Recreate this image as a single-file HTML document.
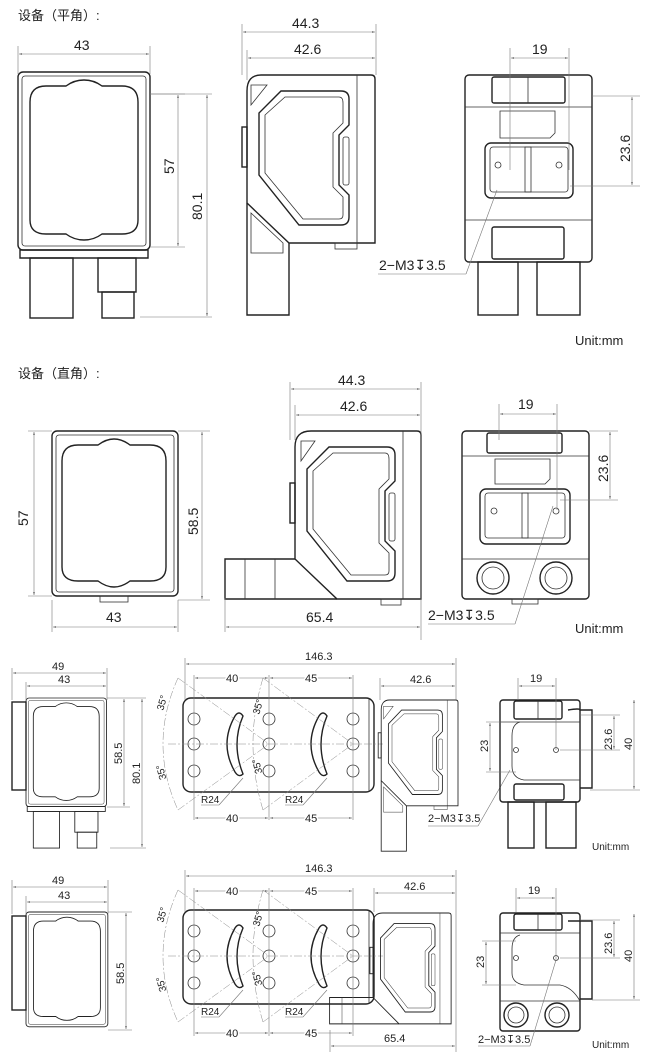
<!DOCTYPE html>
<html><head><meta charset="utf-8"><style>
html,body{margin:0;padding:0;background:#fff;}
svg{display:block;}
text{font-family:"Liberation Sans","Noto Sans CJK SC",sans-serif;fill:#222;}
.b{fill:none;stroke:#222;stroke-width:1.4;}
.t{fill:none;stroke:#333;stroke-width:0.8;}
.d{fill:none;stroke:#777;stroke-width:0.6;}
.c{fill:none;stroke:#888;stroke-width:0.5;stroke-dasharray:8 2 2 2;}
</style></head><body>
<svg width="661" height="1060" viewBox="0 0 661 1060" xmlns="http://www.w3.org/2000/svg">
<defs>
<marker id="a" viewBox="0 0 10 10" refX="10" refY="5" markerWidth="5" markerHeight="5" orient="auto-start-reverse"><path d="M0,2 L10,5 L0,8z" fill="#666"/></marker>
<g id="front">
<rect class="b" x="0" y="0" width="132" height="178" rx="5"/>
<rect class="t" x="4" y="4" width="124" height="170" rx="3"/>
<path class="b" d="M28,14 H48 Q56,8 66,8 Q76,8 84,14 H104 Q120,14 120,30 V148 Q120,162 104,162 H84 Q76,168 66,168 Q56,168 48,162 H28 Q12,162 12,148 V30 Q12,14 28,14Z"/>
<path class="b" d="M2,178 H130 V186 H2Z"/>
<rect class="b" x="12" y="186" width="43" height="60"/>
<rect class="b" x="80" y="186" width="38" height="34"/>
<rect class="b" x="84" y="220" width="32" height="26"/>
</g>
<g id="side">
<path class="b" d="M16,0 H126 Q130,0 130,4 V168 H44 L2,128 V16 Q2,0 16,0Z"/>
<line class="t" x1="112" y1="0" x2="112" y2="168"/>
<path class="b" d="M36,16 H96 Q104,16 104,24 V50 L94,60 V110 L104,120 V142 Q104,150 96,150 H54 L14,100 V38 Z"/>
<path class="t" d="M40,22 H94 Q98,22 98,28 V48 L88,58 V112 L98,122 V140 Q98,144 94,144 H58 L20,98 V40 Z"/>
<rect class="t" x="98" y="62" width="6" height="48" rx="2"/>
<path class="t" d="M6,10 H22 L6,30Z"/>
<rect class="b" x="-3" y="52" width="5" height="40"/>
<path class="b" d="M2,128 V240 H44 V168"/>
<path class="t" d="M6,138 L38,168 V178 H6Z"/>
<rect class="t" x="90" y="168" width="22" height="6"/>
</g>
<g id="back">
<rect class="b" x="0" y="0" width="127" height="187" rx="4"/>
<rect class="b" x="27" y="2" width="73" height="26" rx="2"/>
<line class="t" x1="63" y1="2" x2="63" y2="28"/>
<line class="t" x1="0" y1="32" x2="127" y2="32"/>
<path class="t" d="M35,36 H90 V58 L85,63 H35Z"/>
<rect class="b" x="20" y="68" width="88" height="55" rx="6"/>
<rect class="t" x="25" y="72" width="78" height="45" rx="3"/>
<rect class="t" x="60" y="72" width="6" height="45"/>
<circle class="t" cx="33" cy="90" r="3"/><circle class="t" cx="94" cy="90" r="3"/>
<path class="t" d="M0,145 H127"/>
<rect class="b" x="27" y="152" width="72" height="32" rx="2"/>
<rect class="b" x="13" y="187" width="40" height="53"/>
<rect class="b" x="72" y="187" width="43" height="53"/>
</g>
<g id="br">
<rect class="b" x="0" y="0" width="191" height="94" rx="8"/>
<line class="t" x1="186" y1="0" x2="186" y2="94"/>
<circle class="t" cx="11" cy="21" r="6"/><circle class="t" cx="11" cy="46" r="6"/><circle class="t" cx="11" cy="73" r="6"/>
<circle class="t" cx="86" cy="21" r="6"/><circle class="t" cx="86" cy="46" r="6"/><circle class="t" cx="86" cy="73" r="6"/>
<circle class="t" cx="170" cy="21" r="6"/><circle class="t" cx="170" cy="46" r="6"/><circle class="t" cx="170" cy="73" r="6"/>
<path class="b" d="M52,18 Q36,46 52,74 Q56,80 60,76 Q48,46 60,18 Q56,12 52,18Z"/>
<path class="b" d="M136,18 Q120,46 136,74 Q140,80 144,76 Q132,46 144,18 Q140,12 136,18Z"/>
<line class="c" x1="-15" y1="46" x2="200" y2="46"/>
<line class="c" x1="-5" y1="-20" x2="86" y2="46"/><line class="c" x1="-5" y1="112" x2="86" y2="46"/>
<line class="c" x1="80" y1="-20" x2="170" y2="46"/><line class="c" x1="80" y1="112" x2="170" y2="46"/>
<path class="c" d="M-5,-20 Q-35,46 -5,112"/>
<path class="c" d="M80,-20 Q60,46 80,112"/>
<text x="-28" y="10" font-size="10" transform="rotate(-75 -22 6)">35°</text>
<text x="-28" y="80" font-size="10" transform="rotate(-105 -22 76)">35°</text>
<text x="68" y="14" font-size="10" transform="rotate(-75 74 10)">35°</text>
<text x="68" y="74" font-size="10" transform="rotate(-105 74 70)">35°</text>
<text x="18" y="105" font-size="10">R24</text><line class="d" x1="18" y1="107" x2="36" y2="107"/>
<line class="d" x1="36" y1="107" x2="60" y2="80"/>
<text x="102" y="105" font-size="10">R24</text><line class="d" x1="102" y1="107" x2="120" y2="107"/>
<line class="d" x1="120" y1="107" x2="144" y2="80"/>
</g>
</defs>

<!-- ===== Section 1 ===== -->
<text x="18" y="20" font-size="13">设备（平角）:</text>
<use href="#front" x="18" y="72"/>
<line class="d" x1="18" y1="46" x2="18" y2="74"/><line class="d" x1="150" y1="46" x2="150" y2="74"/>
<line class="d" x1="19" y1="54" x2="149" y2="54" marker-start="url(#a)" marker-end="url(#a)"/>
<text x="74" y="50" font-size="14">43</text>
<line class="d" x1="150" y1="94" x2="185" y2="94"/><line class="d" x1="150" y1="247" x2="185" y2="247"/>
<line class="d" x1="178" y1="95" x2="178" y2="246" marker-start="url(#a)" marker-end="url(#a)"/>
<text font-size="14" transform="translate(174 174) rotate(-90)">57</text>
<line class="d" x1="150" y1="94" x2="212" y2="94"/><line class="d" x1="140" y1="317" x2="212" y2="317"/>
<line class="d" x1="207" y1="95" x2="207" y2="316" marker-start="url(#a)" marker-end="url(#a)"/>
<text font-size="14" transform="translate(202 220) rotate(-90)">80.1</text>

<use href="#side" x="245" y="75"/>
<line class="d" x1="242" y1="24" x2="242" y2="75"/><line class="d" x1="376" y1="24" x2="376" y2="75"/>
<line class="d" x1="243" y1="32" x2="375" y2="32" marker-start="url(#a)" marker-end="url(#a)"/>
<text x="292" y="28" font-size="14">44.3</text>
<line class="d" x1="247" y1="50" x2="247" y2="80"/>
<line class="d" x1="248" y1="58" x2="375" y2="58" marker-start="url(#a)" marker-end="url(#a)"/>
<text x="294" y="54" font-size="14">42.6</text>

<use href="#back" x="465" y="75"/>
<line class="d" x1="510" y1="48" x2="510" y2="170"/><line class="d" x1="569" y1="48" x2="569" y2="170"/>
<line class="d" x1="511" y1="58" x2="568" y2="58" marker-start="url(#a)" marker-end="url(#a)"/>
<text x="532" y="54" font-size="14">19</text>
<line class="d" x1="592" y1="96" x2="640" y2="96"/><line class="d" x1="570" y1="186" x2="640" y2="186"/>
<line class="d" x1="632" y1="97" x2="632" y2="185" marker-start="url(#a)" marker-end="url(#a)"/>
<text font-size="14" transform="translate(630 162) rotate(-90)">23.6</text>
<line class="d" x1="378" y1="274" x2="466" y2="274"/><line class="d" x1="466" y1="274" x2="497" y2="190"/>
<text x="379" y="270" font-size="14">2−M3↧3.5</text>
<text x="575" y="345" font-size="13">Unit:mm</text>

<!-- ===== Section 2 ===== -->
<text x="18" y="378" font-size="13">设备（直角）:</text>
<g transform="translate(52 431)">
<rect class="b" x="0" y="0" width="126" height="165" rx="5"/>
<rect class="t" x="4" y="4" width="118" height="157" rx="3"/>
<path class="b" d="M26,14 H46 Q54,8 62,8 Q70,8 78,14 H98 Q114,14 114,30 V136 Q114,150 98,150 H78 Q70,156 62,156 Q54,156 46,150 H26 Q10,150 10,136 V30 Q10,14 26,14Z"/>
<rect class="t" x="48" y="165" width="28" height="6"/>
</g>
<line class="d" x1="28" y1="431" x2="52" y2="431"/><line class="d" x1="28" y1="596" x2="52" y2="596"/>
<line class="d" x1="34" y1="432" x2="34" y2="595" marker-start="url(#a)" marker-end="url(#a)"/>
<text font-size="14" transform="translate(28 526) rotate(-90)">57</text>
<line class="d" x1="178" y1="431" x2="210" y2="431"/><line class="d" x1="178" y1="600" x2="210" y2="600"/>
<line class="d" x1="202" y1="432" x2="202" y2="599" marker-start="url(#a)" marker-end="url(#a)"/>
<text font-size="14" transform="translate(198 535) rotate(-90)">58.5</text>
<line class="d" x1="52" y1="600" x2="52" y2="632"/><line class="d" x1="178" y1="600" x2="178" y2="632"/>
<line class="d" x1="53" y1="627" x2="177" y2="627" marker-start="url(#a)" marker-end="url(#a)"/>
<text x="106" y="622" font-size="14">43</text>

<g transform="translate(295 431)">
<path class="b" d="M16,0 H122 Q126,0 126,4 V168 H42 L0,128 V16 Q0,0 16,0Z"/>
<line class="t" x1="108" y1="0" x2="108" y2="168"/>
<path class="b" d="M34,16 H92 Q100,16 100,24 V50 L90,60 V110 L100,120 V142 Q100,150 92,150 H52 L12,100 V38 Z"/>
<path class="t" d="M38,22 H90 Q94,22 94,28 V48 L84,58 V112 L94,122 V140 Q94,144 90,144 H56 L18,98 V40 Z"/>
<rect class="t" x="94" y="62" width="6" height="48" rx="2"/>
<path class="t" d="M6,10 H20 L6,30Z"/>
<rect class="b" x="-5" y="52" width="5" height="40"/>
<path class="b" d="M0,128 H-70 V168 H42"/>
<line class="t" x1="-50" y1="128" x2="-50" y2="168"/><line class="t" x1="-20" y1="128" x2="-20" y2="168"/>
<rect class="t" x="86" y="168" width="20" height="6"/>
</g>
<line class="d" x1="290" y1="382" x2="290" y2="440"/><line class="d" x1="421" y1="382" x2="421" y2="640"/>
<line class="d" x1="291" y1="389" x2="420" y2="389" marker-start="url(#a)" marker-end="url(#a)"/>
<text x="338" y="385" font-size="14">44.3</text>
<line class="d" x1="295" y1="405" x2="295" y2="440"/>
<line class="d" x1="296" y1="415" x2="420" y2="415" marker-start="url(#a)" marker-end="url(#a)"/>
<text x="340" y="411" font-size="14">42.6</text>
<line class="d" x1="225" y1="598" x2="225" y2="632"/>
<line class="d" x1="226" y1="627" x2="420" y2="627" marker-start="url(#a)" marker-end="url(#a)"/>
<text x="306" y="622" font-size="14">65.4</text>

<g transform="translate(462 431)">
<rect class="b" x="0" y="0" width="127" height="168" rx="4"/>
<rect class="b" x="25" y="2" width="75" height="20" rx="2"/>
<line class="t" x1="0" y1="25" x2="127" y2="25"/>
<path class="t" d="M33,28 H88 V48 L83,53 H33Z"/>
<rect class="b" x="18" y="58" width="90" height="55" rx="6"/>
<rect class="t" x="23" y="62" width="80" height="45" rx="3"/>
<rect class="t" x="60" y="62" width="6" height="45"/>
<circle class="t" cx="32" cy="80" r="3"/><circle class="t" cx="94" cy="80" r="3"/>
<line class="t" x1="0" y1="128" x2="127" y2="128"/>
<circle class="b" cx="31" cy="147" r="16"/><circle class="t" cx="31" cy="147" r="11"/>
<circle class="b" cx="94" cy="147" r="16"/><circle class="t" cx="94" cy="147" r="11"/>
<rect class="t" x="50" y="168" width="26" height="5"/>
</g>
<line class="d" x1="499" y1="404" x2="499" y2="440"/><line class="d" x1="557" y1="404" x2="557" y2="510"/>
<line class="d" x1="500" y1="414" x2="556" y2="414" marker-start="url(#a)" marker-end="url(#a)"/>
<text x="518" y="409" font-size="14">19</text>
<line class="d" x1="589" y1="431" x2="618" y2="431"/><line class="d" x1="560" y1="500" x2="618" y2="500"/>
<line class="d" x1="610" y1="432" x2="610" y2="499" marker-start="url(#a)" marker-end="url(#a)"/>
<text font-size="14" transform="translate(608 482) rotate(-90)">23.6</text>
<line class="d" x1="428" y1="624" x2="515" y2="624"/><line class="d" x1="515" y1="624" x2="553" y2="506"/>
<text x="428" y="620" font-size="14">2−M3↧3.5</text>
<text x="575" y="633" font-size="13">Unit:mm</text>

<!-- ===== Section 3 ===== -->
<rect class="b" x="12" y="702" width="14" height="88"/>
<use href="#front" transform="translate(26 698) scale(0.61)"/>
<line class="d" x1="12" y1="668" x2="12" y2="700"/><line class="d" x1="107" y1="668" x2="107" y2="700"/>
<line class="d" x1="13" y1="673" x2="106" y2="673" marker-start="url(#a)" marker-end="url(#a)"/>
<text x="52" y="670" font-size="11">49</text>
<line class="d" x1="26" y1="682" x2="26" y2="700"/>
<line class="d" x1="27" y1="686" x2="106" y2="686" marker-start="url(#a)" marker-end="url(#a)"/>
<text x="58" y="683" font-size="11">43</text>
<line class="d" x1="107" y1="698" x2="146" y2="698"/><line class="d" x1="107" y1="807" x2="130" y2="807"/><line class="d" x1="110" y1="848" x2="146" y2="848"/>
<line class="d" x1="124" y1="699" x2="124" y2="806" marker-start="url(#a)" marker-end="url(#a)"/>
<text font-size="11" transform="translate(122 764) rotate(-90)">58.5</text>
<line class="d" x1="142" y1="699" x2="142" y2="847" marker-start="url(#a)" marker-end="url(#a)"/>
<text font-size="11" transform="translate(140 784) rotate(-90)">80.1</text>

<use href="#br" x="183" y="698"/>
<use href="#side" transform="translate(380 700) scale(0.6 0.63)"/>
<line class="d" x1="185" y1="658" x2="185" y2="700"/><line class="d" x1="456" y1="658" x2="456" y2="700"/>
<line class="d" x1="186" y1="664" x2="455" y2="664" marker-start="url(#a)" marker-end="url(#a)"/>
<text x="305" y="660" font-size="11">146.3</text>
<line class="d" x1="194" y1="675" x2="194" y2="820"/><line class="d" x1="269" y1="675" x2="269" y2="820"/><line class="d" x1="353" y1="675" x2="353" y2="820"/>
<line class="d" x1="195" y1="678" x2="268" y2="678" marker-start="url(#a)" marker-end="url(#a)"/>
<text x="226" y="682" font-size="11" style="paint-order:stroke" stroke="#fff" stroke-width="3">40</text>
<line class="d" x1="270" y1="678" x2="352" y2="678" marker-start="url(#a)" marker-end="url(#a)"/>
<text x="305" y="682" font-size="11" style="paint-order:stroke" stroke="#fff" stroke-width="3">45</text>
<line class="d" x1="380" y1="678" x2="380" y2="700"/>
<line class="d" x1="381" y1="686" x2="455" y2="686" marker-start="url(#a)" marker-end="url(#a)"/>
<text x="410" y="683" font-size="11">42.6</text>
<line class="d" x1="195" y1="818" x2="268" y2="818" marker-start="url(#a)" marker-end="url(#a)"/>
<text x="226" y="822" font-size="11" style="paint-order:stroke" stroke="#fff" stroke-width="3">40</text>
<line class="d" x1="270" y1="818" x2="352" y2="818" marker-start="url(#a)" marker-end="url(#a)"/>
<text x="305" y="822" font-size="11" style="paint-order:stroke" stroke="#fff" stroke-width="3">45</text>
<line class="d" x1="428" y1="826" x2="478" y2="826"/><line class="d" x1="478" y1="826" x2="510" y2="770"/>
<text x="428" y="822" font-size="11">2−M3↧3.5</text>

<g transform="translate(500 700)">
<rect class="b" x="0" y="0" width="80" height="102" rx="3"/>
<rect class="b" x="14" y="1" width="48" height="18" rx="2"/>
<line class="t" x1="38" y1="1" x2="38" y2="19"/>
<line class="t" x1="0" y1="22" x2="80" y2="22"/>
<path class="t" d="M20,22 Q12,24 12,36 V66 Q12,78 24,80 H80"/>
<path class="b" d="M68,10 Q80,8 80,10 H92 V88 H80"/>
<circle class="t" cx="16" cy="50" r="2.5"/><circle class="t" cx="56" cy="50" r="2.5"/>
<rect class="b" x="14" y="84" width="50" height="16" rx="2"/>
<rect class="b" x="8" y="102" width="26" height="46"/>
<rect class="b" x="46" y="102" width="30" height="46"/>
</g>
<line class="d" x1="518" y1="678" x2="518" y2="700"/><line class="d" x1="556" y1="678" x2="556" y2="750"/>
<line class="d" x1="519" y1="686" x2="555" y2="686" marker-start="url(#a)" marker-end="url(#a)"/>
<text x="530" y="682" font-size="11">19</text>
<line class="d" x1="486" y1="722" x2="516" y2="722"/><line class="d" x1="486" y1="772" x2="516" y2="772"/>
<line class="d" x1="490" y1="723" x2="490" y2="771" marker-start="url(#a)" marker-end="url(#a)"/>
<text font-size="11" transform="translate(488 752) rotate(-90)">23</text>
<line class="d" x1="580" y1="715" x2="620" y2="715"/><line class="d" x1="560" y1="750" x2="620" y2="750"/><line class="d" x1="590" y1="790" x2="640" y2="790"/>
<line class="d" x1="614" y1="716" x2="614" y2="749" marker-start="url(#a)" marker-end="url(#a)"/>
<text font-size="11" transform="translate(612 750) rotate(-90)">23.6</text>
<line class="d" x1="634" y1="700" x2="634" y2="789" marker-start="url(#a)" marker-end="url(#a)"/>
<text font-size="11" transform="translate(632 750) rotate(-90)">40</text>
<text x="592" y="850" font-size="10">Unit:mm</text>

<!-- ===== Section 4 ===== -->
<rect class="b" x="12" y="916" width="14" height="94"/>
<g transform="translate(26 912) scale(0.62 0.645)">
<rect class="b" x="0" y="0" width="132" height="178" rx="5"/>
<rect class="t" x="4" y="4" width="124" height="170" rx="3"/>
<path class="b" d="M28,14 H48 Q56,8 66,8 Q76,8 84,14 H104 Q120,14 120,30 V148 Q120,162 104,162 H84 Q76,168 66,168 Q56,168 48,162 H28 Q12,162 12,148 V30 Q12,14 28,14Z"/>
</g>
<line class="d" x1="12" y1="880" x2="12" y2="914"/><line class="d" x1="108" y1="880" x2="108" y2="914"/>
<line class="d" x1="13" y1="887" x2="107" y2="887" marker-start="url(#a)" marker-end="url(#a)"/>
<text x="52" y="884" font-size="11">49</text>
<line class="d" x1="26" y1="896" x2="26" y2="914"/>
<line class="d" x1="27" y1="902" x2="107" y2="902" marker-start="url(#a)" marker-end="url(#a)"/>
<text x="58" y="899" font-size="11">43</text>
<line class="d" x1="108" y1="912" x2="132" y2="912"/><line class="d" x1="108" y1="1030" x2="132" y2="1030"/>
<line class="d" x1="126" y1="913" x2="126" y2="1029" marker-start="url(#a)" marker-end="url(#a)"/>
<text font-size="11" transform="translate(124 984) rotate(-90)">58.5</text>

<use href="#br" x="183" y="910"/>
<g transform="translate(373 913) scale(0.62 0.66)">
<path class="b" d="M16,0 H122 Q126,0 126,4 V168 H42 L0,128 V16 Q0,0 16,0Z"/>
<line class="t" x1="108" y1="0" x2="108" y2="168"/>
<path class="b" d="M34,16 H92 Q100,16 100,24 V50 L90,60 V110 L100,120 V142 Q100,150 92,150 H52 L12,100 V38 Z"/>
<path class="t" d="M38,22 H90 Q94,22 94,28 V48 L84,58 V112 L94,122 V140 Q94,144 90,144 H56 L18,98 V40 Z"/>
<rect class="t" x="94" y="62" width="6" height="48" rx="2"/>
<rect class="b" x="-5" y="52" width="5" height="40"/>
<path class="b" d="M0,128 H-70 V168 H42"/>
<line class="t" x1="-50" y1="128" x2="-50" y2="168"/>
</g>
<line class="d" x1="185" y1="870" x2="185" y2="912"/><line class="d" x1="456" y1="870" x2="456" y2="1052"/>
<line class="d" x1="186" y1="876" x2="455" y2="876" marker-start="url(#a)" marker-end="url(#a)"/>
<text x="305" y="872" font-size="11">146.3</text>
<line class="d" x1="194" y1="888" x2="194" y2="1036"/><line class="d" x1="269" y1="888" x2="269" y2="1036"/><line class="d" x1="353" y1="888" x2="353" y2="1036"/>
<line class="d" x1="195" y1="891" x2="268" y2="891" marker-start="url(#a)" marker-end="url(#a)"/>
<text x="226" y="895" font-size="11" style="paint-order:stroke" stroke="#fff" stroke-width="3">40</text>
<line class="d" x1="270" y1="891" x2="352" y2="891" marker-start="url(#a)" marker-end="url(#a)"/>
<text x="305" y="895" font-size="11" style="paint-order:stroke" stroke="#fff" stroke-width="3">45</text>
<line class="d" x1="374" y1="888" x2="374" y2="912"/>
<line class="d" x1="375" y1="893" x2="455" y2="893" marker-start="url(#a)" marker-end="url(#a)"/>
<text x="404" y="890" font-size="11">42.6</text>
<line class="d" x1="195" y1="1033" x2="268" y2="1033" marker-start="url(#a)" marker-end="url(#a)"/>
<text x="226" y="1037" font-size="11" style="paint-order:stroke" stroke="#fff" stroke-width="3">40</text>
<line class="d" x1="270" y1="1033" x2="352" y2="1033" marker-start="url(#a)" marker-end="url(#a)"/>
<text x="305" y="1037" font-size="11" style="paint-order:stroke" stroke="#fff" stroke-width="3">45</text>
<line class="d" x1="330" y1="1030" x2="330" y2="1052"/>
<line class="d" x1="331" y1="1046" x2="455" y2="1046" marker-start="url(#a)" marker-end="url(#a)"/>
<text x="384" y="1042" font-size="11">65.4</text>

<g transform="translate(500 913)">
<rect class="b" x="0" y="0" width="80" height="118" rx="3"/>
<rect class="b" x="14" y="1" width="48" height="16" rx="2"/>
<line class="t" x1="38" y1="1" x2="38" y2="17"/>
<line class="t" x1="0" y1="20" x2="80" y2="20"/>
<path class="t" d="M20,22 Q12,24 12,36 V60 Q12,70 24,72 H60 Q72,74 80,88"/>
<path class="b" d="M68,8 H92 V86 H80"/>
<circle class="t" cx="16" cy="45" r="2.5"/><circle class="t" cx="56" cy="45" r="2.5"/>
<line class="t" x1="0" y1="88" x2="80" y2="88"/>
<circle class="b" cx="16" cy="102" r="12"/><circle class="t" cx="16" cy="102" r="8"/>
<circle class="b" cx="57" cy="102" r="12"/><circle class="t" cx="57" cy="102" r="8"/>
</g>
<line class="d" x1="516" y1="888" x2="516" y2="912"/><line class="d" x1="556" y1="888" x2="556" y2="960"/>
<line class="d" x1="517" y1="898" x2="555" y2="898" marker-start="url(#a)" marker-end="url(#a)"/>
<text x="528" y="894" font-size="11">19</text>
<line class="d" x1="482" y1="941" x2="516" y2="941"/><line class="d" x1="482" y1="985" x2="516" y2="985"/>
<line class="d" x1="486" y1="942" x2="486" y2="984" marker-start="url(#a)" marker-end="url(#a)"/>
<text font-size="11" transform="translate(484 968) rotate(-90)">23</text>
<line class="d" x1="580" y1="920" x2="620" y2="920"/><line class="d" x1="560" y1="958" x2="620" y2="958"/><line class="d" x1="592" y1="1000" x2="640" y2="1000"/>
<line class="d" x1="614" y1="921" x2="614" y2="957" marker-start="url(#a)" marker-end="url(#a)"/>
<text font-size="11" transform="translate(612 954) rotate(-90)">23.6</text>
<line class="d" x1="634" y1="914" x2="634" y2="999" marker-start="url(#a)" marker-end="url(#a)"/>
<text font-size="11" transform="translate(632 962) rotate(-90)">40</text>
<line class="d" x1="478" y1="1046" x2="530" y2="1046"/><line class="d" x1="530" y1="1046" x2="556" y2="960"/>
<text x="478" y="1043" font-size="11">2−M3↧3.5</text>
<text x="592" y="1048" font-size="10">Unit:mm</text>
</svg>
</body></html>
